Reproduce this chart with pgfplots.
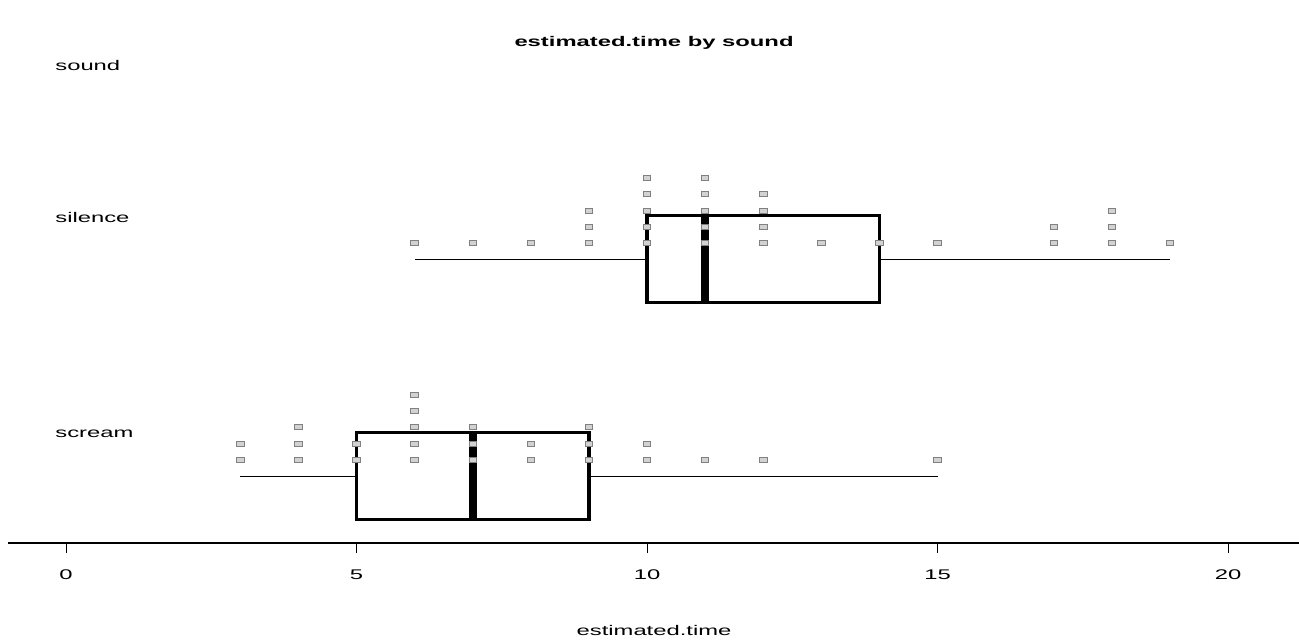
\documentclass[border=0pt]{standalone}
\usepackage{fontspec}
\setmainfont[FakeStretch=1.7]{Liberation Sans}
\usepackage{pgfplots}
\pgfplotsset{compat=1.18}
\usepgfplotslibrary{statistics}
\begin{document}
\begin{tikzpicture}
\begin{axis}[
  scale only axis,
  width=645.5pt, height=271.5pt,
  xmin=-1, xmax=21.22,
  ymin=96, ymax=639,
  clip=false,
  axis x line*=bottom,
  axis y line=none,
  x axis line style={-, line width=0.6pt},
  xtick={0,5,10,15,20},
  tick align=outside,
  major tick length=5pt,
  xtick style={line width=0.5pt, black},
  /pgf/number format/assume math mode=true,
  xticklabel style={font=\fontsize{7}{8}\selectfont, anchor=center, yshift=-11pt},
  boxplot/draw direction=x,
]
% boxes
\addplot[black, line width=1.7pt,
  boxplot prepared={lower whisker=6, lower quartile=10, median=11, upper quartile=14, upper whisker=19, draw position=380, box extend=87, whisker extend=0},
  boxplot/every whisker/.style={line width=0.5pt},
  boxplot/every median/.style={line width=4pt}
] coordinates {};
\addplot[black, line width=1.7pt,
  boxplot prepared={lower whisker=3, lower quartile=5, median=7, upper quartile=9, upper whisker=15, draw position=163, box extend=87, whisker extend=0},
  boxplot/every whisker/.style={line width=0.5pt},
  boxplot/every median/.style={line width=4pt}
] coordinates {};
% dots: silence
\addplot[only marks, mark=square*, mark size=1.25pt, mark options={fill=gray!35, draw=gray, line width=0.45pt, xscale=1.5}]
coordinates {
(6,396)(7,396)(8,396)
(9,396)(9,412)(9,428)
(10,396)(10,412)(10,428)(10,445)(10,461)
(11,396)(11,412)(11,428)(11,445)(11,461)
(12,396)(12,412)(12,428)(12,445)
(13,396)(14,396)(15,396)
(17,396)(17,412)
(18,396)(18,412)(18,428)
(19,396)
};
% dots: scream
\addplot[only marks, mark=square*, mark size=1.25pt, mark options={fill=gray!35, draw=gray, line width=0.45pt, xscale=1.5}]
coordinates {
(3,179)(3,195)
(4,179)(4,195)(4,212)
(5,179)(5,195)
(6,179)(6,195)(6,212)(6,228)(6,244)
(7,179)(7,195)(7,212)
(8,179)(8,195)
(9,179)(9,195)(9,212)
(10,179)(10,195)
(11,179)(12,179)(15,179)
};
\node[font=\fontsize{7}{8}\selectfont\bfseries] at (axis cs:10.12,596) {estimated.time by sound};
\node[font=\fontsize{7}{8}\selectfont, anchor=west, inner sep=0pt] at (axis cs:-0.19,574) {sound};
\node[font=\fontsize{7}{8}\selectfont, anchor=west, inner sep=0pt] at (axis cs:-0.19,422) {silence};
\node[font=\fontsize{7}{8}\selectfont, anchor=west, inner sep=0pt] at (axis cs:-0.19,205) {scream};
\node[font=\fontsize{7}{8}\selectfont] at (axis cs:10.12,9) {estimated.time};
\coordinate (bl) at (axis cs:-1.136,0);
\coordinate (tr) at (axis cs:21.22,639);
\end{axis}
\pgfresetboundingbox
\useasboundingbox (bl) rectangle (tr);
\end{tikzpicture}
\end{document}
